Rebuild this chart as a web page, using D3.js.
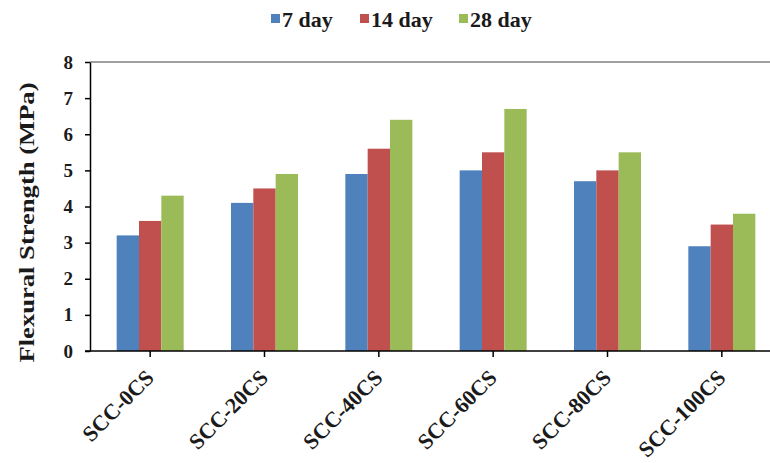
<!DOCTYPE html>
<html>
<head>
<meta charset="utf-8">
<script src="https://cdn.jsdelivr.net/npm/d3@7"></script>
<style>
  html, body { margin: 0; padding: 0; background: #fff; }
  svg { display: block; }
</style>
</head>
<body>
<svg id="chart" width="770" height="463"></svg>
<script>
const categories = ["SCC-0CS", "SCC-20CS", "SCC-40CS", "SCC-60CS", "SCC-80CS", "SCC-100CS"];
const seriesNames = ["7 day", "14 day", "28 day"];
const day7  = [3.2, 4.1, 4.9, 5.0, 4.7, 2.9];
const day14 = [3.6, 4.5, 5.6, 5.5, 5.0, 3.5];
const day28 = [4.3, 4.9, 6.4, 6.7, 5.5, 3.8];
const yTicks = [0, 1, 2, 3, 4, 5, 6, 7, 8];
const colors = ["#4F81BD", "#C0504D", "#9BBB59"];

const seriesValues = [day7, day14, day28];
const FONT = "'Liberation Serif', 'Times New Roman', serif";
const svg = d3.select("#chart");

const plotLeft = 90, plotTop = 62, plotBottom = 351, rightRange = 779;

const x0 = d3.scaleBand().domain(categories).range([93, rightRange]).paddingInner(0.414).paddingOuter(0.207);
const x1 = d3.scaleBand().domain(seriesNames).range([0, x0.bandwidth()]).padding(0);
const y = d3.scaleLinear().domain([0, 8]).range([plotBottom, plotTop]);

// top border of plot area
svg.append("line")
  .attr("x1", plotLeft).attr("x2", 770)
  .attr("y1", y(8)).attr("y2", y(8))
  .attr("stroke", "#808080").attr("stroke-width", 1.5);

// bars
const groups = svg.append("g").selectAll("g")
  .data(categories)
  .join("g")
  .attr("transform", d => `translate(${x0(d)},0)`);

groups.selectAll("rect")
  .data((d, i) => seriesNames.map((s, j) => ({ s, j, v: seriesValues[j][i] })))
  .join("rect")
  .attr("x", d => x1(d.s))
  .attr("width", x1.bandwidth())
  .attr("y", d => y(d.v))
  .attr("height", d => y(0) - y(d.v))
  .attr("fill", d => colors[d.j]);

// y axis
const yAxis = svg.append("g")
  .attr("transform", `translate(${plotLeft},0)`)
  .call(d3.axisLeft(y).tickValues(yTicks).tickFormat(d3.format("d")).tickSize(5).tickSizeOuter(0).tickPadding(12));
yAxis.attr("font-family", null).attr("font-size", null);
yAxis.select(".domain").attr("stroke", "#000").attr("stroke-width", 1.5);
yAxis.selectAll(".tick line").attr("stroke", "#000").attr("stroke-width", 1.5);
yAxis.selectAll(".tick text")
  .style("font-family", FONT)
  .style("font-weight", "bold")
  .style("font-size", "19px")
  .attr("fill", "#1a1a1a");

// x axis
const xAxis = svg.append("g")
  .attr("transform", `translate(0,${plotBottom})`)
  .call(d3.axisBottom(x0).tickSize(6).tickSizeOuter(0).tickFormat(""));
xAxis.select(".domain").remove();
xAxis.append("line")
  .attr("x1", 85).attr("x2", 770).attr("y1", 0).attr("y2", 0)
  .attr("stroke", "#000").attr("stroke-width", 1.5);
xAxis.selectAll(".tick line").attr("stroke", "#000").attr("stroke-width", 1.5);

// rotated category labels
svg.append("g").selectAll("text")
  .data(categories)
  .join("text")
  .attr("text-anchor", "end")
  .attr("transform", d => `translate(${x0(d) + x0.bandwidth() / 2 + 5},${plotBottom + 28}) rotate(-45)`)
  .style("font-family", FONT)
  .style("font-weight", "bold")
  .style("font-size", "22px")
  .attr("fill", "#1a1a1a")
  .text(d => d);

// y title
svg.append("text")
  .attr("transform", `translate(34,${(82 + 363) / 2}) rotate(-90)`)
  .attr("text-anchor", "middle")
  .attr("textLength", 280)
  .attr("lengthAdjust", "spacingAndGlyphs")
  .style("font-family", FONT)
  .style("font-weight", "bold")
  .style("font-size", "20px")
  .attr("fill", "#1a1a1a")
  .text("Flexural Strength (MPa)");

// legend
const legendX = [271, 360, 459];
const legend = svg.append("g");
seriesNames.forEach((s, i) => {
  legend.append("rect")
    .attr("x", legendX[i]).attr("y", 14)
    .attr("width", 9).attr("height", 9)
    .attr("fill", colors[i]);
  legend.append("text")
    .attr("x", legendX[i] + 11).attr("y", 27)
    .style("font-family", FONT)
    .style("font-weight", "bold")
    .style("font-size", "22px")
    .attr("fill", "#1a1a1a")
    .text(s);
});
</script>
</body>
</html>
